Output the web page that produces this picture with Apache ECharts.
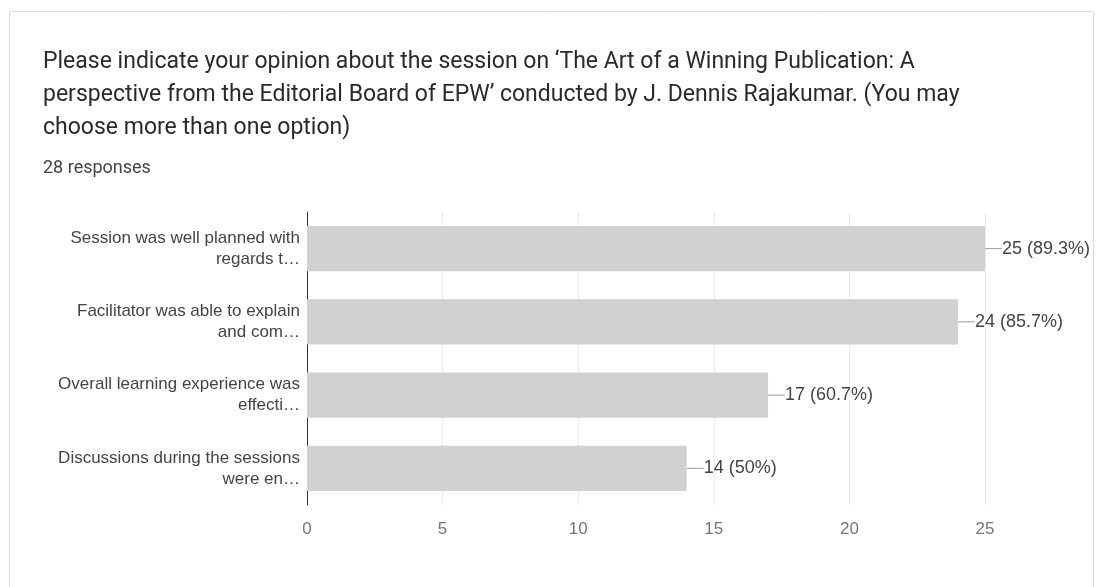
<!DOCTYPE html>
<html>
<head>
<meta charset="utf-8">
<script src="https://cdn.jsdelivr.net/npm/echarts@6/dist/echarts.min.js"></script>
<style>
html,body{margin:0;padding:0;background:#fff;}
#chart{width:1102px;height:587px;}
</style>
</head>
<body>
<div id="chart"></div>
<script>
const titleText = "Please indicate your opinion about the session on \u2018The Art of a Winning Publication: A\nperspective from the Editorial Board of EPW\u2019 conducted by J. Dennis Rajakumar. (You may\nchoose more than one option)";
const subtitleText = "28 responses";
const categories = [
  "Session was well planned with\nregards t\u2026",
  "Facilitator was able to explain\nand com\u2026",
  "Overall learning experience was\neffecti\u2026",
  "Discussions during the sessions\nwere en\u2026"
];
const counts = [25, 24, 17, 14];
const percents = ["89.3%", "85.7%", "60.7%", "50%"];
const xTicks = [0, 5, 10, 15, 20, 25];

const chart = echarts.init(document.getElementById('chart'));
chart.setOption({
  animation: false,
  backgroundColor: '#fff',
  graphic: [{
    type: 'rect', shape: {x: 9.5, y: 11.5, width: 1084, height: 640},
    style: {fill: 'none', stroke: '#dadce0', lineWidth: 1}, silent: true, z: -1
  }],
  title: [{
    text: titleText, left: 38, top: 41,
    textStyle: {fontFamily: 'Roboto', fontSize: 23, fontWeight: 'normal', color: '#2a2a2a', lineHeight: 33}
  }, {
    text: subtitleText, left: 38, top: 154,
    textStyle: {fontFamily: 'Roboto', fontSize: 18, fontWeight: 'normal', color: '#444'}
  }],
  grid: {left: 307, right: 117, top: 212, bottom: 82, containLabel: false},
  xAxis: {
    type: 'value', min: 0, max: 25, interval: 5,
    axisLine: {show: false}, axisTick: {show: false},
    splitLine: {show: true, lineStyle: {color: '#ececec', width: 1}},
    axisLabel: {
      margin: 16, color: '#757575', fontSize: 17, fontFamily: 'Liberation Sans',
      formatter: v => xTicks.indexOf(v) >= 0 ? String(v) : ''
    }
  },
  yAxis: {
    type: 'category', data: categories, inverse: true,
    axisLine: {show: true, lineStyle: {color: '#333', width: 1}},
    axisTick: {show: false},
    axisLabel: {margin: 7, color: '#444', fontSize: 17, fontFamily: 'Liberation Sans', lineHeight: 21, align: 'right'}
  },
  series: [{
    type: 'bar', data: counts, barWidth: '62%',
    itemStyle: {color: '#d1d1d1'},
    label: {
      show: true, position: 'right', distance: 2,
      formatter: p => p.value + ' (' + percents[p.dataIndex] + ')',
      color: '#444', fontSize: 18, fontFamily: 'Liberation Sans'
    },
    labelLayout: {dx: 15},
    labelLine: {show: true, lineStyle: {color: '#9e9e9e', width: 1}}
  }]
});
</script>
</body>
</html>
